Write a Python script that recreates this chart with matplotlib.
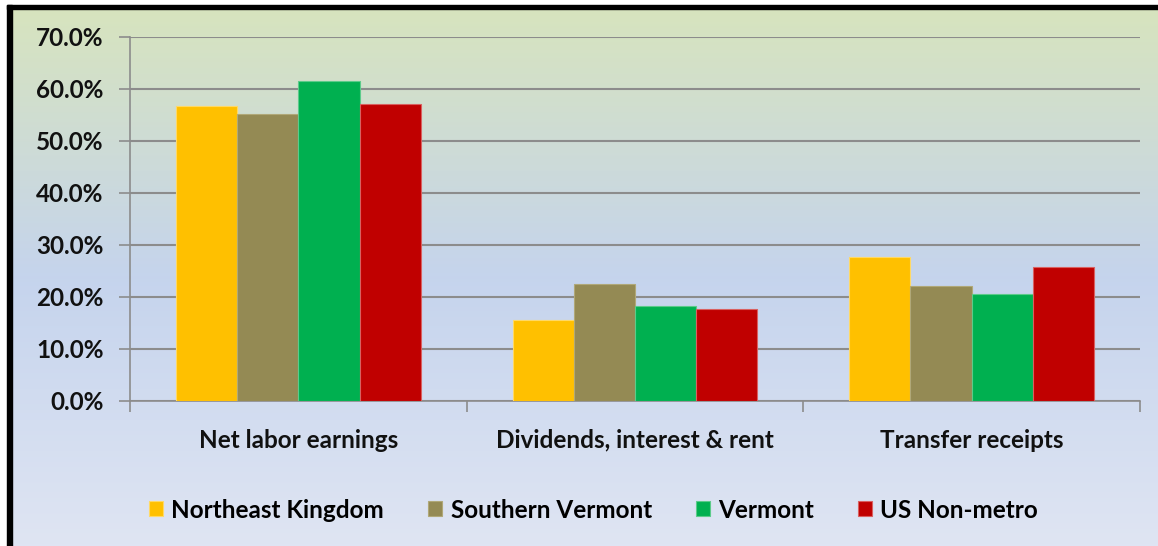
#! /usr/bin/env python
# -*- coding: utf-8 -*-

"""
Sources of personal income - grouped bars, Excel-like look
"""

import numpy as np
import matplotlib
matplotlib.use('Agg')
import matplotlib.pyplot as plt
from matplotlib.patches import Rectangle
from matplotlib.colors import LinearSegmentedColormap
from matplotlib.ticker import FuncFormatter

plt.rcParams['font.family'] = ['Lato', 'DejaVu Sans']

categories = ['Net labor earnings', 'Dividends, interest & rent', 'Transfer receipts']
series_names = ['Northeast Kingdom', 'Southern Vermont', 'Vermont', 'US Non-metro']
northeast_kingdom = [56.7, 15.6, 27.7]
southern_vermont = [55.2, 22.5, 22.1]
vermont = [61.5, 18.3, 20.6]
us_non_metro = [57.1, 17.6, 25.8]
y_ticks = [0, 10, 20, 30, 40, 50, 60, 70]

colors = ['#FFC000', '#948A54', '#00B050', '#C00000']
edges = ['#FFD966', '#B0A878', '#5CCB8A', '#D96060']

W, H = 1158, 546


def px(x0, y0, x1, y1):
    # pixel box (top-left origin) -> figure fraction rect
    return [x0 / W, 1 - y1 / H, (x1 - x0) / W, (y1 - y0) / H]


def main():
    fig = plt.figure(figsize=(W / 100, H / 100), dpi=100)
    fig.patch.set_facecolor('white')

    # gradient background inside the frame
    bg = fig.add_axes(px(12, 9, W, H), zorder=-5)
    cmap = LinearSegmentedColormap.from_list('bg', [
        (0.0, (0.843, 0.894, 0.745)),
        (0.30, (0.800, 0.855, 0.855)),
        (0.50, (0.773, 0.831, 0.929)),
        (1.0, (0.875, 0.898, 0.953)),
    ])
    grad = np.linspace(0, 1, 256).reshape(-1, 1)
    bg.imshow(grad, aspect='auto', cmap=cmap, extent=[0, 1, 0, 1], origin='upper')
    bg.set_axis_off()

    # black frame (left and top)
    fig.patches.append(Rectangle((7 / W, 0), 5 / W, 1 - 5 / H,
                                 transform=fig.transFigure, color='black', zorder=10))
    fig.patches.append(Rectangle((7 / W, 1 - 9 / H), 1, 4 / H,
                                 transform=fig.transFigure, color='black', zorder=10))

    ax = fig.add_axes(px(130, 37, 1140, 401))
    ax.patch.set_alpha(0)

    data = [northeast_kingdom, southern_vermont, vermont, us_non_metro]
    x = np.arange(len(categories))
    bw = 0.727 / 4
    for i, vals in enumerate(data):
        ax.bar(x + (i - 1.5) * bw, vals, bw, color=colors[i], edgecolor=edges[i],
               linewidth=0.8, label=series_names[i], zorder=3)

    ax.set_xlim(-0.5, len(categories) - 0.5)
    ax.set_ylim(0, 70)
    ax.set_yticks(y_ticks)
    ax.yaxis.set_major_formatter(FuncFormatter(lambda v, p: '%.1f%%' % v))
    ax.grid(axis='y', color='#8C8C8C', linewidth=1.5, zorder=1)
    ax.set_axisbelow(True)

    ax.set_xticks(x)
    ax.set_xticklabels(categories)
    ax.set_xticks(np.arange(len(categories) + 1) - 0.5, minor=True)
    ax.tick_params(axis='x', which='major', length=0, pad=20)
    ax.tick_params(axis='x', which='minor', length=8, color='#8C8C8C', width=1.2)
    ax.tick_params(axis='y', length=8, color='#8C8C8C', width=1.2, pad=11)
    for lab in ax.get_xticklabels() + ax.get_yticklabels():
        lab.set_fontsize(17.5)
        lab.set_fontweight('bold')
        lab.set_color('#111111')

    for side in ['top', 'right']:
        ax.spines[side].set_visible(False)
    ax.spines['left'].set_color('#8C8C8C')
    ax.spines['bottom'].set_color('#8C8C8C')
    ax.spines['left'].set_linewidth(1.2)
    ax.spines['bottom'].set_linewidth(1.2)

    handles, labels = ax.get_legend_handles_labels()
    fig.legend(handles, labels, loc='center', bbox_to_anchor=(0.5125, 1 - 510 / H),
               ncol=4, frameon=False, handlelength=0.58, handleheight=0.58,
               handletextpad=0.35, columnspacing=1.8,
               prop={'size': 17.5, 'weight': 'bold'})

    fig.savefig('out.png', dpi=100)


if __name__ == '__main__':
    main()
